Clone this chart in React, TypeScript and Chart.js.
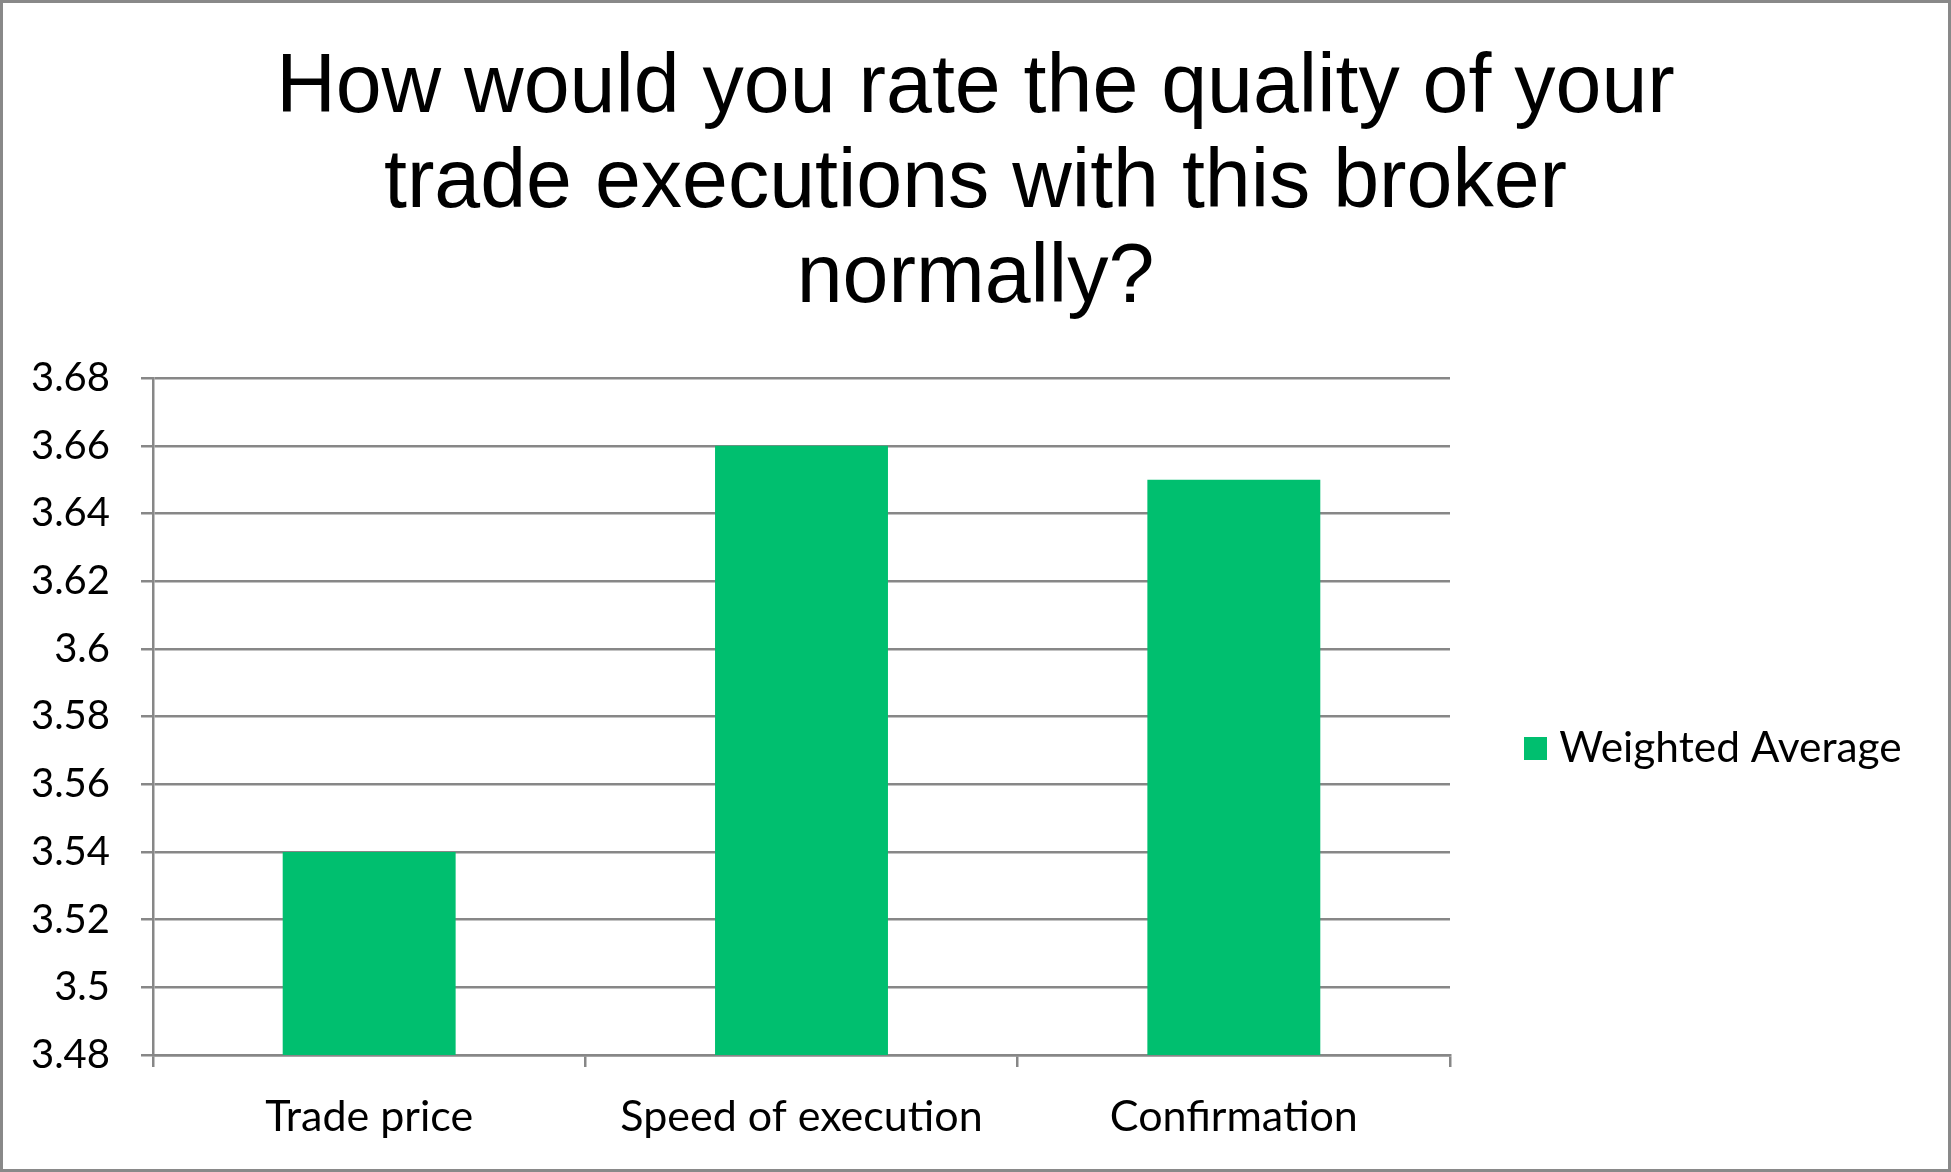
import React, { useEffect, useRef } from "react";
import { Chart, registerables } from "chart.js";

Chart.register(...registerables);

const titleLines = [
  "How would you rate the quality of your",
  "trade executions with this broker",
  "normally?",
];
const categories = ["Trade price", "Speed of execution", "Confirmation"];
const seriesName = "Weighted Average";
const weightedAverage = [3.54, 3.66, 3.65];
const yTickLabels = ["3.48", "3.5", "3.52", "3.54", "3.56", "3.58", "3.6", "3.62", "3.64", "3.66", "3.68"];
const yTickValues = yTickLabels.map((s) => parseFloat(s));

const GRID = "#878787";
const BAR = "#00BF6F";
const W = 1951;
const H = 1172;
const AREA_LEFT = 153;
const AREA_RIGHT = 1450;
const LEGEND_FONT = 42.4;
const LEGEND_PAD = 83;
const LEGEND_BOX_W = 5;

const frame = {
  id: "frame",
  beforeDraw(chart: any) {
    const { ctx, width, height } = chart;
    ctx.save();
    ctx.fillStyle = "#ffffff";
    ctx.fillRect(0, 0, width, height);
    ctx.restore();
  },
  afterDraw(chart: any) {
    const { ctx, width, height } = chart;
    ctx.save();
    ctx.strokeStyle = "#898989";
    ctx.lineWidth = 3;
    ctx.strokeRect(1.5, 1.5, width - 3, height - 3);
    ctx.restore();
  },
};

// keeps the legend column at a fixed width so the plot area ends where the reference's does
const legendSizer = {
  id: "legendSizer",
  beforeLayout(chart: any) {
    const lg = chart.legend;
    if (lg && !lg.__sized) {
      const orig = lg.fit;
      lg.fit = function () {
        orig.call(this);
        this.width = W - AREA_RIGHT;
      };
      lg.__sized = true;
    }
  },
};

export default function App() {
  const ref = useRef<HTMLCanvasElement | null>(null);
  useEffect(() => {
    document.body.style.margin = "0";
    const chart = new Chart(ref.current as HTMLCanvasElement, {
      type: "bar",
      data: {
        labels: categories,
        datasets: [
          {
            label: seriesName,
            data: weightedAverage,
            backgroundColor: BAR,
            borderWidth: 0,
            categoryPercentage: 1,
            barPercentage: 0.4,
          },
        ],
      },
      options: {
        animation: false,
        responsive: true,
        maintainAspectRatio: false,
        devicePixelRatio: 1,
        layout: { padding: 0 },
        plugins: {
          tooltip: { enabled: false },
          title: {
            display: true,
            text: titleLines,
            color: "#000000",
            font: { family: "'Liberation Sans', Arial", size: 82.5, weight: "normal", lineHeight: 1.148 },
            padding: { top: 42, bottom: 52 },
          },
          legend: {
            display: true,
            position: "right",
            fullSize: false,
            title: {
              display: true,
              text: " ",
              font: { size: 1, lineHeight: 1 },
              padding: { top: 31, bottom: 32 },
            },
            labels: {
              usePointStyle: true,
              pointStyle: "rect",
              boxWidth: LEGEND_BOX_W,
              boxHeight: 23,
              padding: LEGEND_PAD,
              color: "#000000",
              font: { family: "Lato", size: LEGEND_FONT },
            },
          },
        },
        scales: {
          x: {
            afterFit(scale: any) {
              scale.height = 117;
            },
            grid: {
              display: true,
              drawOnChartArea: false,
              drawTicks: true,
              tickLength: 12,
              color: GRID,
              lineWidth: 2.5,
            },
            border: { display: true, color: GRID, width: 2.5 },
            ticks: {
              color: "#000000",
              font: { family: "Lato", size: 43 },
              padding: 24,
              maxRotation: 0,
            },
          },
          y: {
            min: 3.48,
            max: 3.68,
            afterFit(scale: any) {
              scale.width = AREA_LEFT;
            },
            afterBuildTicks(scale: any) {
              scale.ticks = yTickValues.map((v) => ({ value: v }));
            },
            grid: {
              display: true,
              drawTicks: true,
              tickLength: 12,
              color: GRID,
              lineWidth: 2.5,
            },
            border: { display: true, color: GRID, width: 2.5 },
            ticks: {
              color: "#000000",
              font: { family: "Lato", size: 40 },
              padding: 31,
              callback: (_v: any, i: number) => yTickLabels[i],
            },
          },
        },
      },
      plugins: [legendSizer, frame],
    });
    return () => chart.destroy();
  }, []);
  return (
    <div style={{ position: "absolute", left: 0, top: 0, width: `${W}px`, height: `${H}px` }}>
      <canvas ref={ref} />
    </div>
  );
}
